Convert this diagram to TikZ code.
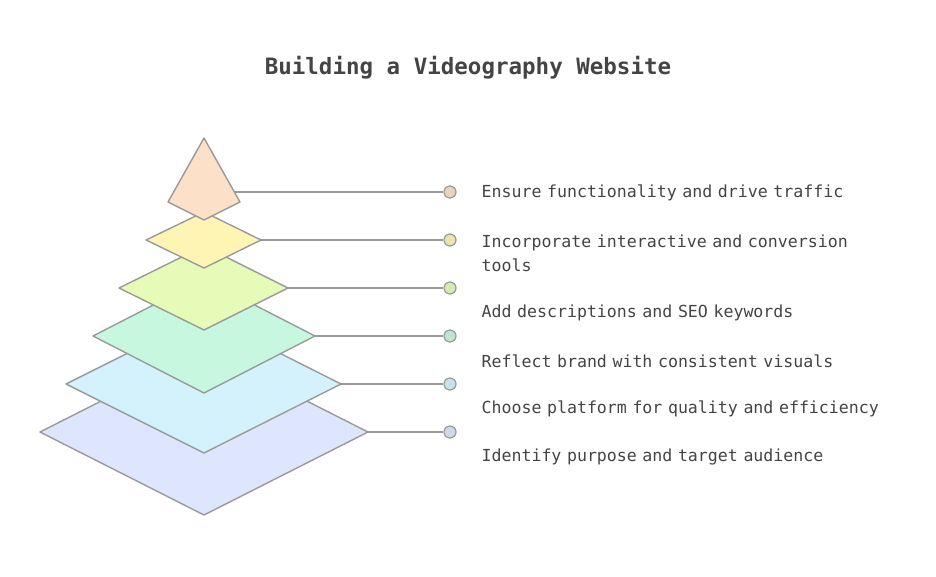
\documentclass[tikz,border=0pt]{standalone}
\usepackage{fontspec}
\setmainfont{DejaVu Sans}
\setmonofont{DejaVu Sans Mono}
\definecolor{edge}{HTML}{9A9A9A}
\definecolor{txt}{HTML}{444444}
\definecolor{cA}{HTML}{DDE6FD}
\definecolor{cB}{HTML}{D3F2FB}
\definecolor{cC}{HTML}{C8F7E0}
\definecolor{cD}{HTML}{E6FBB8}
\definecolor{cE}{HTML}{FEF5B5}
\definecolor{cF}{HTML}{FDE0C8}
\tikzset{
  layer/.style={draw=edge,line width=1.4pt,line join=round},
  leader/.style={draw=edge,line width=1.4pt},
  dot/.style={circle,draw=edge,line width=1.2pt,minimum size=12pt,inner sep=0pt},
  lbl/.style={anchor=west,text=txt,font=\ttfamily\fontsize{16.6}{24}\selectfont,align=left,text width=450pt}
}
\begin{document}
\begin{tikzpicture}[x=1pt,y=-1pt]
  \useasboundingbox (0,0) rectangle (936,576);
  % Titel
  \node[text=txt,font=\ttfamily\bfseries\fontsize{22.5}{26}\selectfont] (title) at (468,68) {Building a Videography Website};
  % Schichten, von unten nach oben
  \foreach \n/\l/\r/\h/\c in {1/40/368/83/cA,2/66/341/69/cB,3/93/315/57/cC,4/119/288/42/cD,5/146/261/28/cE}{
    \pgfmathsetmacro{\yy}{480-48*\n}
    \draw[layer,fill=\c] (\l,\yy) -- (204,\yy-\h) -- (\r,\yy) -- (204,\yy+\h) -- cycle;
    \coordinate (r\n) at (\r,\yy);
  }
  % Spitze
  \draw[layer,fill=cF] (204,138) -- (240,202) -- (204,220) -- (168,202) -- cycle;
  \coordinate (r6) at (234,192);
  % Punkte und Linien
  \foreach \n/\y/\c in {1/432/cA,2/384/cB,3/336/cC,4/288/cD,5/240/cE,6/192/cF}{
    \node[dot,fill=\c!85!gray] (d\n) at (450,\y) {};
    \draw[leader] (r\n) -- (d\n);
  }
  % Beschriftungen
  \node[lbl] (t6) at (478,193) {Ensure functionality and drive traffic};
  \node[lbl] (t5) at (478,253) {Incorporate interactive and conversion\\tools};
  \node[lbl] (t4) at (478,313) {Add descriptions and SEO keywords};
  \node[lbl] (t3) at (478,361) {Reflect brand with consistent visuals};
  \node[lbl] (t2) at (478,409) {Choose platform for quality and efficiency};
  \node[lbl] (t1) at (478,457) {Identify purpose and target audience};
\end{tikzpicture}
\end{document}
